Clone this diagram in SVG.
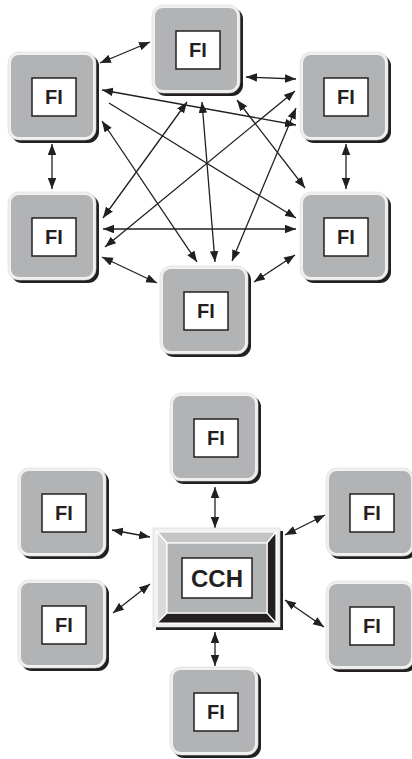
<svg xmlns="http://www.w3.org/2000/svg" xmlns:xlink="http://www.w3.org/1999/xlink" width="412" height="759" viewBox="0 0 412 759">
<style>
.fi{font-family:"Liberation Sans",Arial,sans-serif;font-weight:bold;font-size:20px;fill:#231f20;text-anchor:middle}
.cch{font-family:"Liberation Sans",Arial,sans-serif;font-weight:bold;font-size:24px;fill:#231f20;text-anchor:middle}
.c line{stroke:#231f20;stroke-width:1.3;fill:none;marker-end:url(#ah)}
.c line.b{marker-start:url(#ah)}
</style>
<defs>
<marker id="ah" markerUnits="userSpaceOnUse" markerWidth="12" markerHeight="9" refX="11" refY="4.25" orient="auto-start-reverse">
<path d="M0,0 L11,4.25 L0,8.5 z" fill="#231f20"/>
</marker>
<g id="nodeShape">
<rect x="3" y="3" width="88" height="88" rx="11" fill="#231f20"/>
<rect x="0" y="0" width="88" height="88" rx="11" fill="#f0f0f0" stroke="#dadada" stroke-width="0.6"/>
<rect x="3" y="3" width="82" height="82" rx="8" fill="#b2b3b5"/>
<rect x="24" y="26" width="44" height="38" fill="#ffffff" stroke="#231f20" stroke-width="1.5"/>
</g>
</defs>
<rect width="412" height="759" fill="#ffffff"/>

<g id="connectors" class="c">
<line class="b" x1="100" y1="63" x2="150" y2="42"/>
<line class="b" x1="246" y1="77" x2="296" y2="79"/>
<line class="b" x1="102" y1="90" x2="296" y2="125"/>
<line x1="109" y1="103" x2="296" y2="218"/>
<line class="b" x1="102" y1="121" x2="197" y2="262"/>
<line class="b" x1="52" y1="144" x2="52" y2="189"/>
<line class="b" x1="187" y1="102" x2="103" y2="218"/>
<line class="b" x1="202" y1="102" x2="215" y2="262"/>
<line class="b" x1="237" y1="100" x2="305" y2="188"/>
<line class="b" x1="295" y1="91" x2="105" y2="247"/>
<line class="b" x1="296" y1="108" x2="232" y2="261"/>
<line class="b" x1="346" y1="144" x2="346" y2="189"/>
<line class="b" x1="103" y1="229" x2="296" y2="229"/>
<line class="b" x1="102" y1="257" x2="157" y2="283"/>
<line class="b" x1="295" y1="255" x2="254" y2="282"/>

<line class="b" x1="215" y1="487" x2="215" y2="528"/>
<line class="b" x1="112" y1="530" x2="150" y2="537"/>
<line class="b" x1="285" y1="535" x2="325" y2="515"/>
<line class="b" x1="113" y1="613" x2="150" y2="584"/>
<line class="b" x1="285" y1="600" x2="324" y2="627"/>
<line class="b" x1="215" y1="632" x2="215" y2="666"/>
</g>

<g id="fi-top"><use xlink:href="#nodeShape" x="152" y="5"/><text class="fi" x="198" y="56.5">FI</text></g>
<g id="fi-topleft"><use xlink:href="#nodeShape" x="8" y="52"/><text class="fi" x="54" y="103.5">FI</text></g>
<g id="fi-topright"><use xlink:href="#nodeShape" x="300" y="52"/><text class="fi" x="346" y="103.5">FI</text></g>
<g id="fi-lowerleft"><use xlink:href="#nodeShape" x="8" y="192"/><text class="fi" x="54" y="243.5">FI</text></g>
<g id="fi-lowerright"><use xlink:href="#nodeShape" x="300" y="192"/><text class="fi" x="346" y="243.5">FI</text></g>
<g id="fi-bottom"><use xlink:href="#nodeShape" x="160" y="266"/><text class="fi" x="206" y="317.5">FI</text></g>

<g id="cch">
<rect x="156" y="531" width="127" height="99" fill="#231f20"/>
<rect x="153" y="528" width="127" height="99" fill="#f0f0f0" stroke="#d5d5d5" stroke-width="0.6"/>
<polygon points="157,532 276,532 267,543 167,543" fill="#c4c5c7" stroke="#ffffff" stroke-width="1.2"/>
<polygon points="157,532 167,543 167,613 157,623" fill="#d9dadc" stroke="#ffffff" stroke-width="1.2"/>
<polygon points="276,532 276,623 267,613 267,543" fill="#231f20" stroke="#ffffff" stroke-width="1.2"/>
<polygon points="157,623 167,613 267,613 276,623" fill="#231f20" stroke="#ffffff" stroke-width="1.2"/>
<rect x="167" y="543" width="100" height="70" fill="#b2b3b5" stroke="#ffffff" stroke-width="1.2"/>
<rect x="182" y="558" width="70" height="40" fill="#ffffff" stroke="#231f20" stroke-width="1.5"/>
<text class="cch" x="217" y="587">CCH</text>
</g>

<g id="fi-b-top"><use xlink:href="#nodeShape" x="170" y="393"/><text class="fi" x="216" y="444.5">FI</text></g>
<g id="fi-b-upperleft"><use xlink:href="#nodeShape" x="18" y="468"/><text class="fi" x="64" y="519.5">FI</text></g>
<g id="fi-b-upperright"><use xlink:href="#nodeShape" x="326" y="468"/><text class="fi" x="372" y="519.5">FI</text></g>
<g id="fi-b-lowerleft"><use xlink:href="#nodeShape" x="18" y="580"/><text class="fi" x="64" y="631.5">FI</text></g>
<g id="fi-b-lowerright"><use xlink:href="#nodeShape" x="326" y="581"/><text class="fi" x="372" y="632.5">FI</text></g>
<g id="fi-b-bottom"><use xlink:href="#nodeShape" x="170" y="667"/><text class="fi" x="216" y="718.5">FI</text></g>
</svg>
